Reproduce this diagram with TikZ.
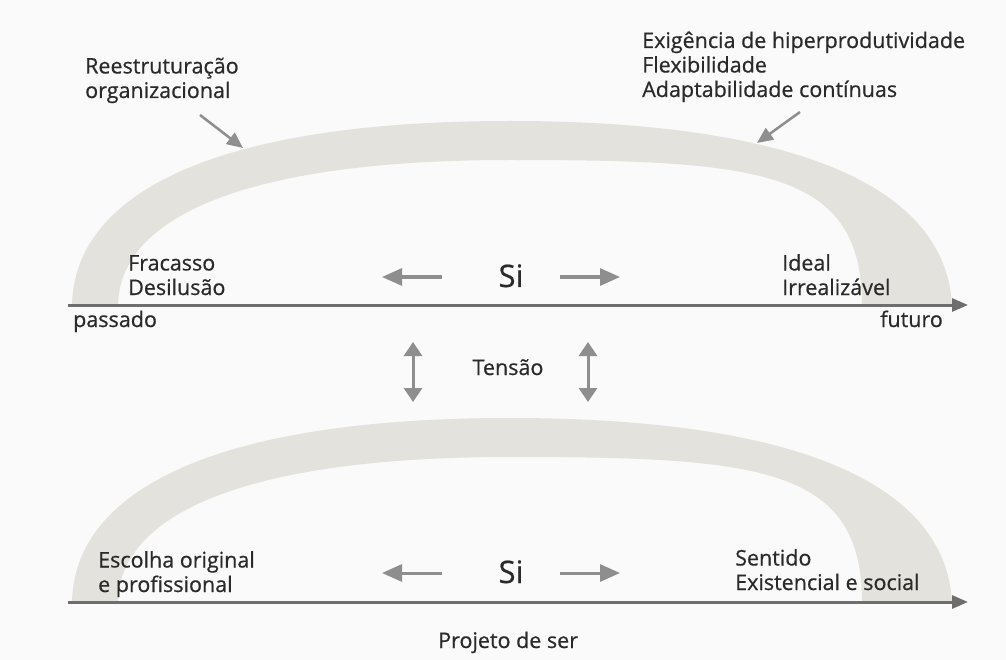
\documentclass[tikz,border=0pt]{standalone}
\usepackage{fontspec}
\setmainfont{Open Sans}[FakeBold=0.6]
\usetikzlibrary{arrows.meta}
\definecolor{bg}{HTML}{FAFAFA}
\definecolor{archc}{HTML}{E4E2DD}
\definecolor{arrc}{HTML}{8E8E8E}
\definecolor{axisc}{HTML}{6E6E6E}
\definecolor{txtc}{HTML}{2A2A2A}
\begin{document}
\begin{tikzpicture}[x=1pt,y=-1pt,
  lbl/.style={inner sep=0pt, anchor=base west, align=left, text=txtc, font=\fontsize{21.5}{24.5}\selectfont},
  silbl/.style={inner sep=0pt, anchor=base, text=txtc, font=\fontsize{31}{33}\selectfont},
  smallarrow/.style={draw=arrc, line width=3pt, -{Triangle[length=20pt,width=17pt]}},
  diagarrow/.style={draw=arrc, line width=2.5pt, -{Triangle[length=16pt,width=14pt]}},
  tensarrow/.style={draw=arrc, line width=3pt, {Triangle[length=14pt,width=18pt]}-{Triangle[length=14pt,width=18pt]}},
  axisarrow/.style={draw=axisc, line width=3pt, -{Triangle[length=16pt,width=13pt]}},
  archfill/.style={fill=archc}
]
\fill[bg] (0,0) rectangle (1006,660);
\useasboundingbox (0,0) rectangle (1006,660);

% arches
\foreach \dy in {0,297}{
\begin{scope}[shift={(0,\dy)}]
\fill[archfill] (72,305) .. controls (74,200) and (200,121) .. (510,121)
  .. controls (780,121) and (945,180) .. (952,305) -- (862,305)
  .. controls (862,170) and (760,160) .. (510,160)
  .. controls (250,160) and (120,215) .. (118,305) -- cycle;
\end{scope}}

% axes
\coordinate (ax1s) at (68,305);
\coordinate (ax1e) at (968,305);
\coordinate (ax2s) at (68,602);
\coordinate (ax2e) at (968,602);
\draw[axisarrow] (ax1s) -- (ax1e);
\draw[axisarrow] (ax2s) -- (ax2e);

% labels upper (base = baseline of last line)
\node[lbl] (reest) at (85,98) {Reestruturação\\organizacional};
\node[lbl] (exig) at (642,97) {Exigência de hiperprodutividade\\Flexibilidade\\Adaptabilidade contínuas};
\node[lbl] (frac) at (128,295) {Fracasso\\Desilusão};
\node[lbl] (ideal) at (782,295) {Ideal\\Irrealizável};
\node[silbl] (si1) at (511,287) {Si};
\node[lbl] (passado) at (73,327) {passado};
\node[lbl, anchor=base east] (futuro) at (943,327) {futuro};
\node[lbl, anchor=base] (tensao) at (508,375) {Tensão};

% labels lower
\node[lbl] (escolha) at (98,592) {Escolha original\\e profissional};
\node[lbl] (sentido) at (735,590) {Sentido\\Existencial e social};
\node[silbl] (si2) at (511,583) {Si};
\node[lbl] (projeto) at (438,648) {Projeto de ser};

% arrows
\coordinate (a1s) at (200,115); \coordinate (a1e) at (243,148);
\coordinate (a2s) at (800,112); \coordinate (a2e) at (757,143);
\draw[diagarrow] (a1s) -- (a1e);
\draw[diagarrow] (a2s) -- (a2e);

\coordinate (l1s) at (442,277); \coordinate (l1e) at (382,277);
\coordinate (r1s) at (560,277); \coordinate (r1e) at (620,277);
\coordinate (l2s) at (442,573); \coordinate (l2e) at (382,573);
\coordinate (r2s) at (560,573); \coordinate (r2e) at (620,573);
\draw[smallarrow] (l1s) -- (l1e);
\draw[smallarrow] (r1s) -- (r1e);
\draw[smallarrow] (l2s) -- (l2e);
\draw[smallarrow] (r2s) -- (r2e);

\coordinate (t1s) at (413,342); \coordinate (t1e) at (413,402);
\coordinate (t2s) at (588,342); \coordinate (t2e) at (588,402);
\draw[tensarrow] (t1s) -- (t1e);
\draw[tensarrow] (t2s) -- (t2e);
\end{tikzpicture}
\end{document}
